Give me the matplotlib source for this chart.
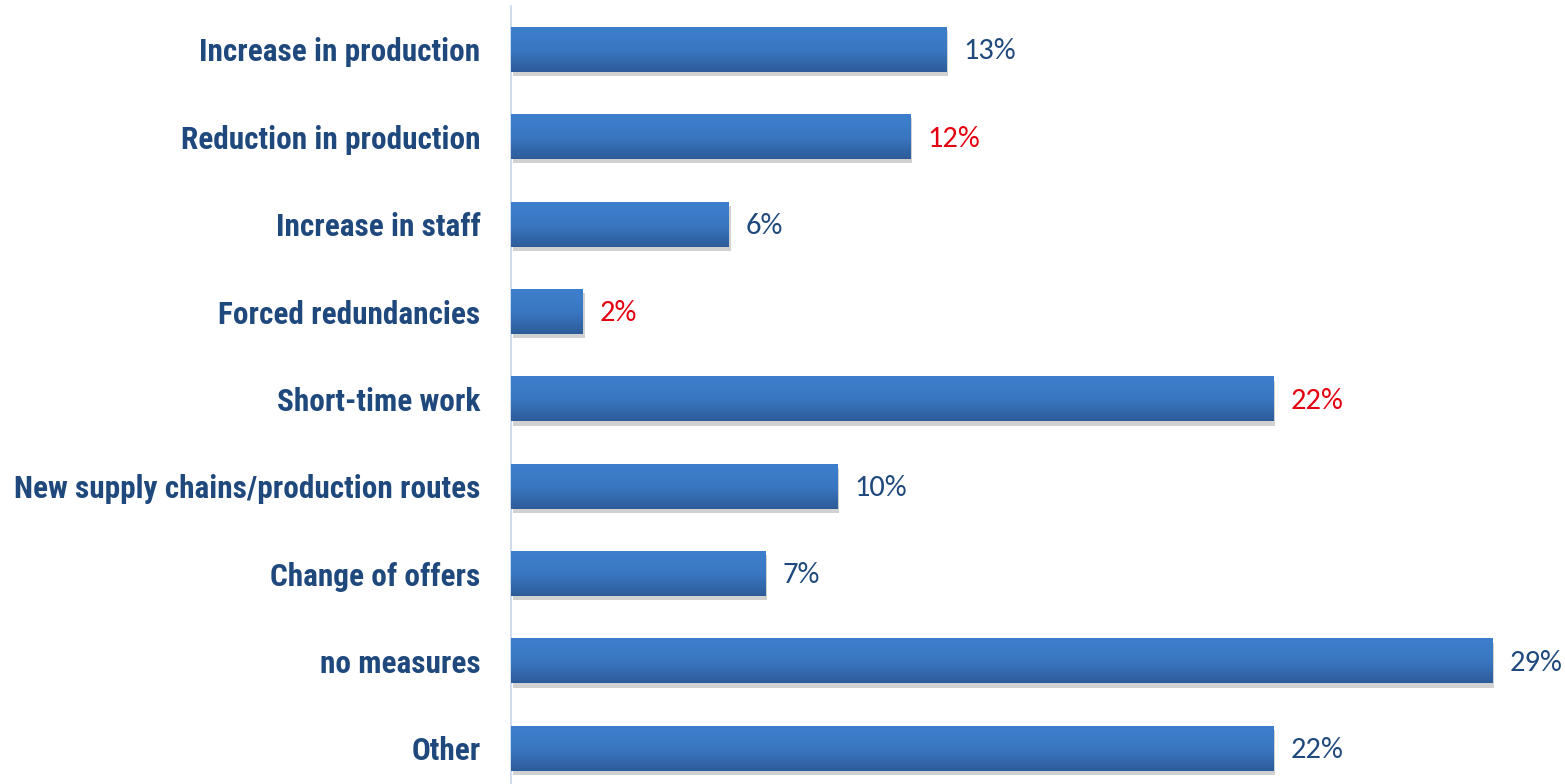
import numpy as np
import matplotlib.pyplot as plt
from matplotlib import patheffects as pe
from matplotlib.colors import LinearSegmentedColormap

categories = [
    "Increase in production",
    "Reduction in production",
    "Increase in staff",
    "Forced redundancies",
    "Short-time work",
    "New supply chains/production routes",
    "Change of offers",
    "no measures",
    "Other",
]
values = [12.76, 11.70, 6.39, 2.11, 22.35, 9.56, 7.45, 28.77, 22.35]
label_colors = ["#1f497d", "#e3000f", "#1f497d", "#e3000f", "#e3000f",
                "#1f497d", "#1f497d", "#1f497d", "#1f497d"]

W, H = 1565, 784
fig = plt.figure(figsize=(W / 100, H / 100), dpi=100)
ax = fig.add_axes([511 / W, -0.0101, 1 - 511 / W, 1.0027])

y = np.arange(len(categories))
bars = ax.barh(y, values, height=0.515, color="#3671b8", zorder=2,
               path_effects=[pe.SimplePatchShadow(offset=(1.5, -3), shadow_rgbFace="#000000", alpha=0.18),
                             pe.Normal()])

# vertical gradient on each bar
cmap = LinearSegmentedColormap.from_list("bar", ["#3d7fcc", "#3a77c2", "#2d5b98"])
grad = np.linspace(0, 1, 256).reshape(-1, 1)
for b in bars:
    x0, y0 = b.get_x(), b.get_y()
    im = ax.imshow(grad, cmap=cmap, aspect="auto", zorder=3,
                   extent=(x0, x0 + b.get_width(), y0 + b.get_height(), y0),
                   interpolation="bicubic")
    im.set_clip_path(b)

for yi, v, c in zip(y, values, label_colors):
    ax.text(v + 0.5, yi + 0.02, f"{v:.0f}%", va="center", ha="left", color=c,
            fontsize=22, family=["Carlito", "Lato", "DejaVu Sans"])

ax.set_xlim(0, 30.9)
ax.set_ylim(8.5, -0.5)
ax.set_yticks(y)
ax.set_yticklabels(categories, fontsize=22.5, fontweight="bold", color="#1f497d",
                   family=["Roboto Condensed", "PT Sans Narrow", "Liberation Sans", "DejaVu Sans"])
ax.tick_params(axis="y", length=0, pad=22)
ax.set_xticks([])
for s in ["top", "right", "bottom"]:
    ax.spines[s].set_visible(False)
ax.spines["left"].set_color("#c6d5ea")
ax.spines["left"].set_linewidth(1.2)

fig.savefig("out.png", dpi=100)
